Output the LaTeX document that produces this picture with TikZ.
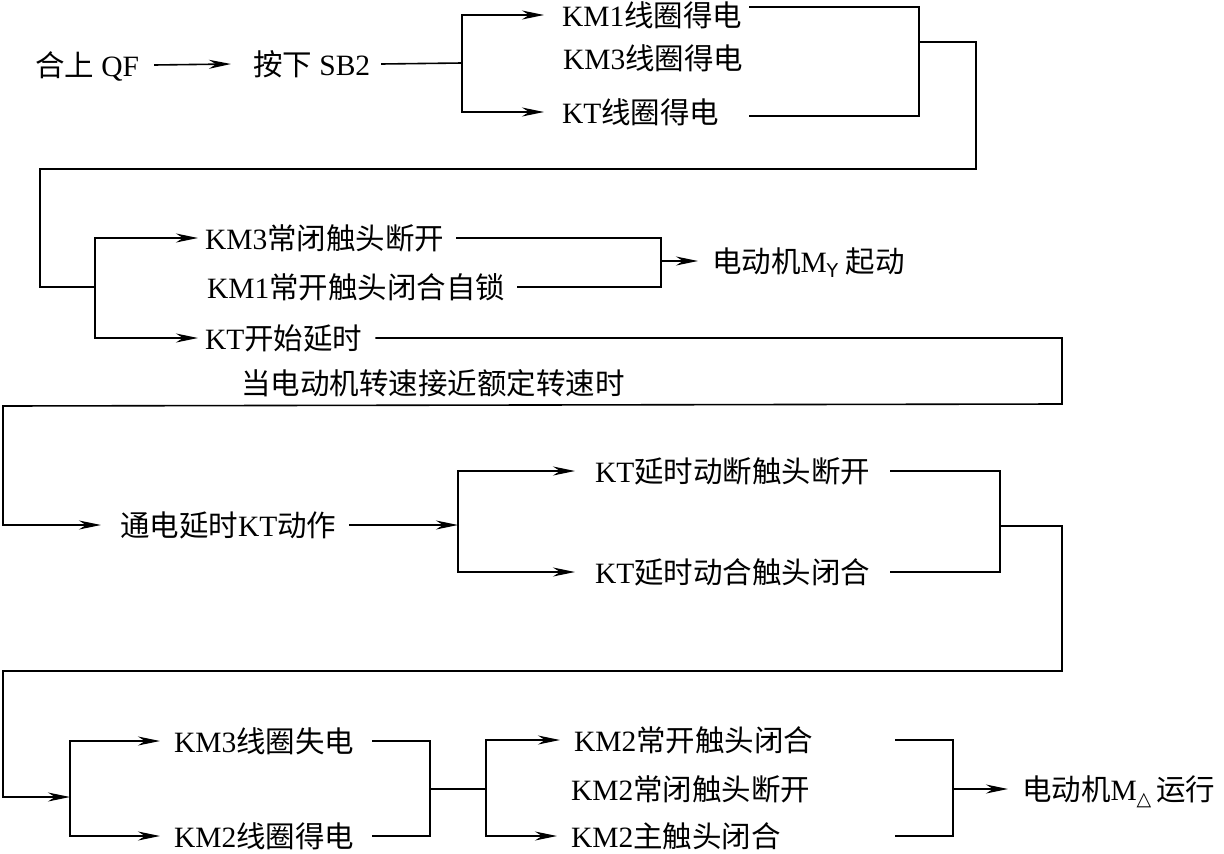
\documentclass[tikz,border=0pt]{standalone}
\usepackage{fontspec}
\setmainfont{Liberation Serif}
\newfontfamily\cjkfont{Noto Sans CJK SC}
\newfontfamily\symfont{DejaVu Sans}
\usetikzlibrary{arrows.meta}
\newcommand\zhtxt[1]{{\cjkfont #1}}
\newcommand\subsym[1]{\raisebox{-0.2em}{\symfont\fontsize{19}{19}\selectfont #1}}
\begin{document}
\begin{tikzpicture}[x=1pt,y=-1pt,
  lbl/.style={anchor=west,inner sep=0pt,outer sep=0pt,font=\fontsize{29.5}{30}\selectfont,text height=26pt,text depth=4pt},
  ln/.style={line width=1.6pt},
  arr/.style={ln,-{Stealth[length=22pt,width=9pt,inset=7pt]}}]
\useasboundingbox (0,0) rectangle (1224,854);

% ---------- row 1 ----------
\node[lbl] (qf)  at (35,65)  {\zhtxt{合上} QF};
\node[lbl] (sb2) at (253,64) {\zhtxt{按下} SB2};
\node[lbl] (km1) at (562,15) {KM1\zhtxt{线圈得电}};
\node[lbl] (km3) at (563,58) {KM3\zhtxt{线圈得电}};
\node[lbl] (kt)  at (562,112) {KT\zhtxt{线圈得电}};
\coordinate (j1) at (462,63);
\coordinate (r1) at (749,42);
\coordinate (m1) at (919,42);
\coordinate (t1) at (976,169);
\coordinate (j2) at (95,287);

\draw[arr] ([xshift=15pt]qf.east) -- ([xshift=-22pt]sb2.west);
\draw[ln] ([xshift=11pt]sb2.east) -- (j1);
\draw[arr] (j1) |- ([xshift=-18pt]km1.west);
\draw[arr] (j1) |- ([xshift=-18pt]kt.west);
\draw[ln] ([yshift=8pt]km1.east -| r1) -| (m1);
\draw[ln] ([yshift=-4pt]kt.east -| r1) -| (m1);
\draw[ln] (m1) -| (t1) -- (40,169) |- (j2);

% ---------- row 2 ----------
\node[lbl] (b1) at (205,238) {KM3\zhtxt{常闭触头断开}};
\node[lbl] (b2) at (207,287) {KM1\zhtxt{常开触头闭合自锁}};
\node[lbl] (b3) at (205,338) {KT\zhtxt{开始延时}};
\node[lbl] (my) at (712,261) {\zhtxt{电动机}M\subsym{Y} \zhtxt{起动}};
\node[lbl] (note) at (241,383) {\zhtxt{当电动机转速接近额定转速时}};
\coordinate (m2) at (661,261);
\coordinate (t2) at (1062,404);

\draw[arr] (j2) |- ([xshift=-7pt]b1.west);
\draw[arr] (j2) |- ([xshift=-7pt]b3.west);
\draw[ln] ([xshift=12pt]b1.east) -| (m2);
\draw[ln] ([xshift=12pt]b2.east) -| (m2);
\draw[arr] (m2) -- ([xshift=-14pt]my.west);

% ---------- row 3 ----------
\node[lbl] (c1) at (120,525) {\zhtxt{通电延时}KT\zhtxt{动作}};
\node[lbl] (d1) at (595,471) {KT\zhtxt{延时动断触头断开}};
\node[lbl] (d2) at (595,572) {KT\zhtxt{延时动合触头闭合}};
\coordinate (j3) at (458,525);
\coordinate (r3) at (890,526);
\coordinate (m3) at (1000,526);
\coordinate (t3) at (1062,671);
\coordinate (j4) at (70,797);

\draw[arr] ([xshift=13pt]b3.east) -| (t2) -- (3,406) |- ([xshift=-19pt]c1.west);
\draw[arr] ([xshift=13pt]c1.east) -- (j3);
\draw[arr] (j3) |- ([xshift=-20pt]d1.west);
\draw[arr] (j3) |- ([xshift=-20pt]d2.west);
\draw[ln] (d1.east -| r3) -| (m3);
\draw[ln] (d2.east -| r3) -| (m3);
\draw[arr] (m3) -| (t3) -- (3,671) |- (j4);

% ---------- row 4 ----------
\node[lbl] (e1) at (174,741) {KM3\zhtxt{线圈失电}};
\node[lbl] (e2) at (174,836) {KM2\zhtxt{线圈得电}};
\node[lbl] (f1) at (574,740) {KM2\zhtxt{常开触头闭合}};
\node[lbl] (f2) at (571,789) {KM2\zhtxt{常闭触头断开}};
\node[lbl] (f3) at (571,836) {KM2\zhtxt{主触头闭合}};
\node[lbl] (md) at (1022,789) {\zhtxt{电动机}M\subsym{△}\,\zhtxt{运行}};
\coordinate (r4) at (372,789);
\coordinate (m4) at (430,789);
\coordinate (j5) at (486,789);
\coordinate (r5) at (895,789);
\coordinate (m5) at (953,789);

\draw[arr] (j4) |- ([xshift=-14pt]e1.west);
\draw[arr] (j4) |- ([xshift=-14pt]e2.west);
\draw[ln] (e1.east -| r4) -| (m4);
\draw[ln] (e2.east -| r4) -| (m4);
\draw[ln] (m4) -- (j5);
\draw[arr] (j5) |- ([xshift=-14pt]f1.west);
\draw[arr] (j5) |- ([xshift=-14pt]f3.west);
\draw[ln] (f1.east -| r5) -| (m5);
\draw[ln] (f3.east -| r5) -| (m5);
\draw[arr] (m5) -- ([xshift=-14pt]md.west);
\end{tikzpicture}
\end{document}
